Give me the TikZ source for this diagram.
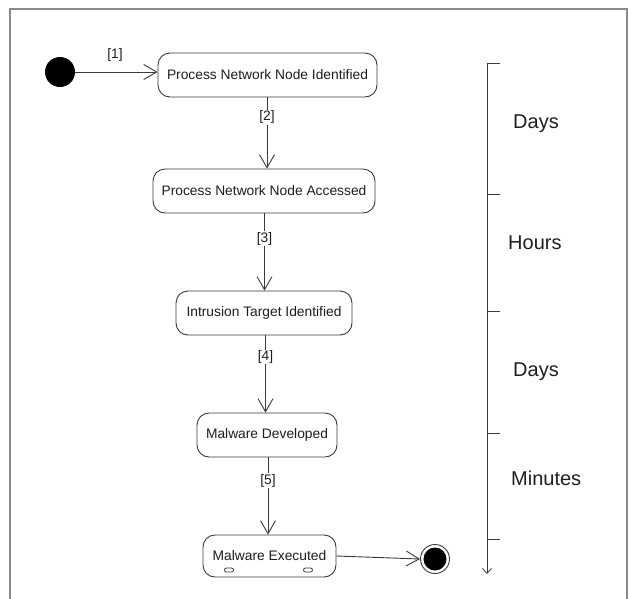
\documentclass[tikz,border=0pt]{standalone}
\usepackage{fontspec}
\setmainfont{Liberation Sans}
\usetikzlibrary{arrows.meta}
\definecolor{ln}{HTML}{3A3A3A}
\definecolor{fr}{HTML}{8A8A8A}
\definecolor{tx}{HTML}{1E1E1E}
\begin{document}
\begin{tikzpicture}[x=1pt,y=-1pt,
  state/.style={draw=ln, line width=0.9pt, rounded corners=12pt, minimum height=44pt, inner sep=0pt, font=\fontsize{13.8}{16}\selectfont, text=tx, fill=white},
  trans/.style={draw=ln, line width=0.9pt, -{Straight Barb[length=13pt,width=15pt,line width=0.9pt]}},
  glabel/.style={fill=white, inner sep=1pt, font=\fontsize{13.8}{16}\selectfont, text=tx},
  tlabel/.style={anchor=west, inner sep=0pt, font=\fontsize{20}{24}\selectfont, text=tx},
  tick/.style={draw=ln, line width=0.9pt}]
\useasboundingbox (0,0) rectangle (629,598);
\begin{scope}
\clip (0,0) rectangle (629,598);
\draw[fr, line width=2pt] (10,9) rectangle (627,620);
\end{scope}
% start and end
\node[circle, fill=black, minimum size=30pt, inner sep=0pt] (start) at (60,72) {};
\node[circle, draw=ln, line width=0.9pt, fill=white, minimum size=29pt, inner sep=0pt] (endo) at (435,559) {};
\node[circle, fill=black, minimum size=23pt, inner sep=0pt] (endi) at (435,559) {};
% states
\node[state, minimum width=219pt] (n1) at (267.5,75) {Process Network Node Identified};
\node[state, minimum width=222pt] (n2) at (264,191) {Process Network Node Accessed};
\node[state, minimum width=176pt] (n3) at (264,313) {Intrusion Target Identified};
\node[state, minimum width=140pt] (n4) at (267,435) {Malware Developed};
\node[state, minimum width=133pt, minimum height=42pt] (n5) at (269.5,556) {Malware Executed};
\node[draw=ln, line width=0.8pt, rounded corners=2pt, minimum width=9pt, minimum height=4pt, inner sep=0pt] (p1) at (229,570) {};
\node[draw=ln, line width=0.8pt, rounded corners=2pt, minimum width=9pt, minimum height=4pt, inner sep=0pt] (p2) at (308,570) {};
% transitions
\draw[trans] (start.east) -- (start -| n1.west);
\node[glabel] (l1) at (115,55) {[1]};
\coordinate (a2) at (267,0);
\draw[trans] (a2 |- n1.south) -- (a2 |- n2.north) node[glabel, pos=0.28] (l2) {[2]};
\coordinate (a3) at (264.5,0);
\draw[trans] (a3 |- n2.south) -- (a3 |- n3.north) node[glabel, pos=0.33] (l3) {[3]};
\coordinate (a4) at (265.5,0);
\draw[trans] (a4 |- n3.south) -- (a4 |- n4.north) node[glabel, pos=0.28] (l4) {[4]};
\coordinate (a5) at (268,0);
\draw[trans] (a5 |- n4.south) -- (a5 |- n5.north) node[glabel, pos=0.30] (l5) {[5]};
\draw[trans] (n5.east) -- (endo.west);
% timeline
\coordinate (t0) at (487,63);
\coordinate (t1) at (487,194);
\coordinate (t2) at (487,311);
\coordinate (t3) at (487,433);
\coordinate (t4) at (487,539);
\coordinate (tend) at (487,574);
\draw[ln, line width=0.9pt, -{Straight Barb[length=5pt,width=9pt,line width=0.8pt]}] (t0) -- (tend);
\foreach \t in {t0,t1,t2,t3,t4} \draw[tick] (\t) -- ++(13,0);
\node[tlabel] (d1) at (513,124) {Days};
\node[tlabel] (h1) at (508,243) {Hours};
\node[tlabel] (d2) at (513,372) {Days};
\node[tlabel] (m1) at (511,478) {Minutes};
\end{tikzpicture}
\end{document}
